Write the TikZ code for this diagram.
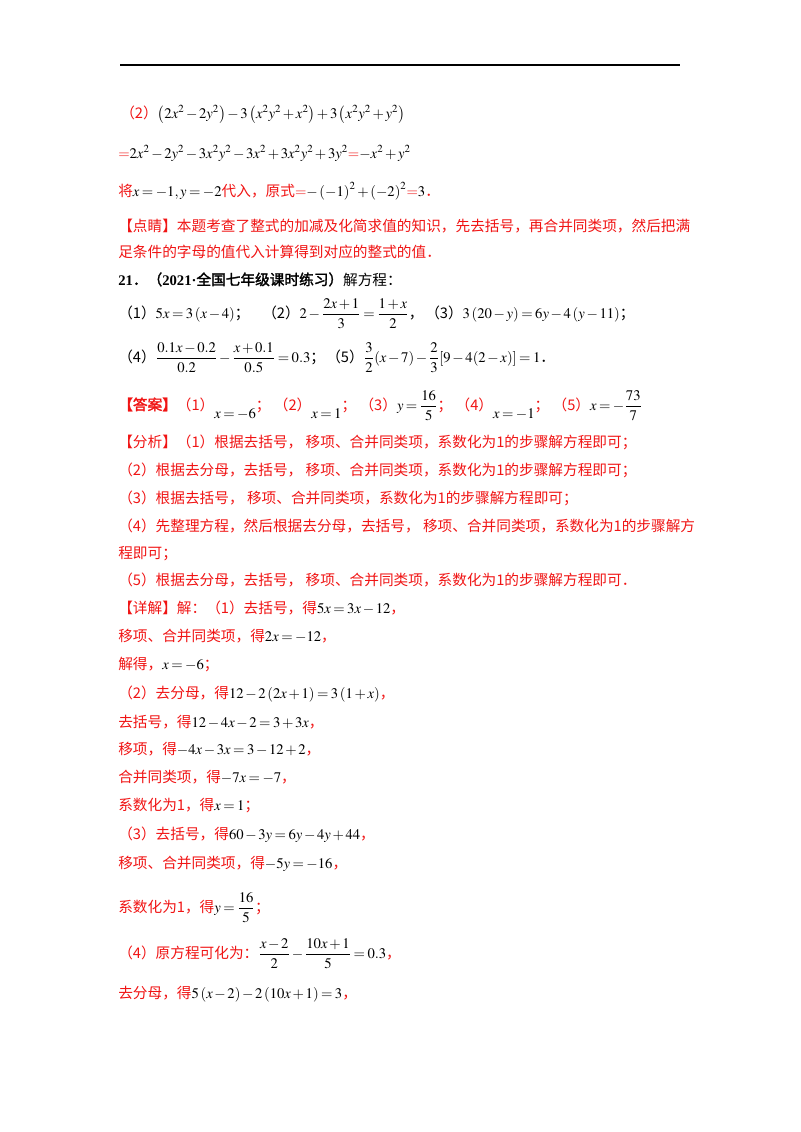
\documentclass[tikz,border=0pt]{standalone}
\usepackage{amsmath}
\usepackage{mathptmx}
\usepackage{fontspec}
\setmainfont{Liberation Serif}
\newfontfamily\cjk{Noto Sans CJK SC}
\newfontfamily\cjkb{Noto Sans CJK SC}[FakeBold=2]
\definecolor{ansred}{RGB}{240,20,20}
\newcommand{\zh}[1]{{\cjk #1}}
\medmuskip=2mu plus 1mu
\thickmuskip=3mu plus 1mu
\tikzset{
	txt/.style={anchor=base west, inner sep=0pt, font=\fontsize{11}{13}\selectfont},
	red/.style={txt, text=ansred}
}

\begin{document}
\begin{tikzpicture}[x=0.75pt, y=-0.75pt]
		\useasboundingbox (0,0) rectangle (800,1132);
		
		% Header rule
		\coordinate (ruleL) at (120,65);
		\coordinate (ruleR) at (680,65);
		\draw [line width=0.8pt] (ruleL) -- (ruleR);
		
		% Part (2) of the previous problem
		\node (p2) [red] at (120,118) {\zh{（2）}\textcolor{black}{$\left(2x^2-2y^2\right)-3\left(x^2y^2+x^2\right)+3\left(x^2y^2+y^2\right)$}};
		\node (p2a) [red] at (118,158) {$=$\textcolor{black}{$2x^2-2y^2-3x^2y^2-3x^2+3x^2y^2+3y^2$}$=$\textcolor{black}{$-x^2+y^2$}};
		\node (p2b) [red] at (118,196) {\zh{将}\textcolor{black}{$x=-1,y=-2$}\zh{代入，原式}$=$\textcolor{black}{$-\left(-1\right)^2+\left(-2\right)^2$}$=$\textcolor{black}{$3$}\zh{．}};
		\node (tip1) [red] at (118,231) {\zh{【点睛】本题考查了整式的加减及化简求值的知识，先去括号，再合并同类项，然后把满}};
		\node (tip2) [red] at (118,257) {\zh{足条件的字母的值代入计算得到对应的整式的值．}};
		
		% Problem 21
		\node (q21) [txt] at (118,285) {\textbf{21}{\cjkb ．（}\textbf{2021·}{\cjkb 全国七年级课时练习）}\zh{解方程：}};
		\node (q1) [txt] at (118,318) {\zh{（1）}$5x=3\left(x-4\right)$\zh{；}};
		\node (q2) [txt] at (262,318) {\zh{（2）}$2-\dfrac{2x+1}{3}=\dfrac{1+x}{2}$\zh{，}};
		\node (q3) [txt] at (425,318) {\zh{（3）}$3\left(20-y\right)=6y-4\left(y-11\right)$\zh{；}};
		\node (q4) [txt] at (118,362) {\zh{（4）}$\dfrac{0.1x-0.2}{0.2}-\dfrac{x+0.1}{0.5}=0.3$\zh{；}};
		\node (q5) [txt] at (326,362) {\zh{（5）}$\dfrac{3}{2}(x-7)-\dfrac{2}{3}[9-4(2-x)]=1$\zh{．}};
		
		% Answer
		\node (ans) [red] at (118,410) {{\cjkb 【答案】}\zh{（1）}\raisebox{-6pt}{\textcolor{black}{$x=-6$}}\zh{；\ （2）}\raisebox{-6pt}{\textcolor{black}{$x=1$}}\zh{；\ （3）}\textcolor{black}{$y=\dfrac{16}{5}$}\zh{；\ （4）}\raisebox{-6pt}{\textcolor{black}{$x=-1$}}\zh{；\ （5）}\textcolor{black}{$x=-\dfrac{73}{7}$}};
		
		% Analysis
		\node (an1) [red] at (118,447) {\zh{【分析】（1）根据去括号，\ 移项、合并同类项，系数化为1的步骤解方程即可；}};
		\node (an2) [red] at (118,475) {\zh{（2）根据去分母，去括号，\ 移项、合并同类项，系数化为1的步骤解方程即可；}};
		\node (an3) [red] at (118,503) {\zh{（3）根据去括号，\ 移项、合并同类项，系数化为1的步骤解方程即可；}};
		\node (an4) [red] at (118,531) {\zh{（4）先整理方程，然后根据去分母，去括号，\ 移项、合并同类项，系数化为1的步骤解方}};
		\node (an4b) [red] at (118,558) {\zh{程即可；}};
		\node (an5) [red] at (118,585) {\zh{（5）根据去分母，去括号，\ 移项、合并同类项，系数化为1的步骤解方程即可．}};
		
		% Solution
		\node (s1) [red] at (118,613) {\zh{【详解】解：（1）去括号，得}\textcolor{black}{$5x=3x-12$}\zh{，}};
		\node (s2) [red] at (118,641) {\zh{移项、合并同类项，得}\textcolor{black}{$2x=-12$}\zh{，}};
		\node (s3) [red] at (118,669) {\zh{解得，}\textcolor{black}{$x=-6$}\zh{；}};
		\node (s4) [red] at (118,698) {\zh{（2）去分母，得}\textcolor{black}{$12-2\left(2x+1\right)=3\left(1+x\right)$}\zh{，}};
		\node (s5) [red] at (118,727) {\zh{去括号，得}\textcolor{black}{$12-4x-2=3+3x$}\zh{，}};
		\node (s6) [red] at (118,754) {\zh{移项，得}\textcolor{black}{$-4x-3x=3-12+2$}\zh{，}};
		\node (s7) [red] at (118,782) {\zh{合并同类项，得}\textcolor{black}{$-7x=-7$}\zh{，}};
		\node (s8) [red] at (118,810) {\zh{系数化为1，得}\textcolor{black}{$x=1$}\zh{；}};
		\node (s9) [red] at (118,839) {\zh{（3）去括号，得}\textcolor{black}{$60-3y=6y-4y+44$}\zh{，}};
		\node (s10) [red] at (118,868) {\zh{移项、合并同类项，得}\textcolor{black}{$-5y=-16$}\zh{，}};
		\node (s11) [red] at (118,912) {\zh{系数化为1，得}\textcolor{black}{$y=\dfrac{16}{5}$}\zh{；}};
		\node (s12) [red] at (118,958) {\zh{（4）原方程可化为：}\textcolor{black}{$\dfrac{x-2}{2}-\dfrac{10x+1}{5}=0.3$}\zh{，}};
		\node (s13) [red] at (118,998) {\zh{去分母，得}\textcolor{black}{$5\left(x-2\right)-2\left(10x+1\right)=3$}\zh{，}};
		
	\end{tikzpicture}
\end{document}
